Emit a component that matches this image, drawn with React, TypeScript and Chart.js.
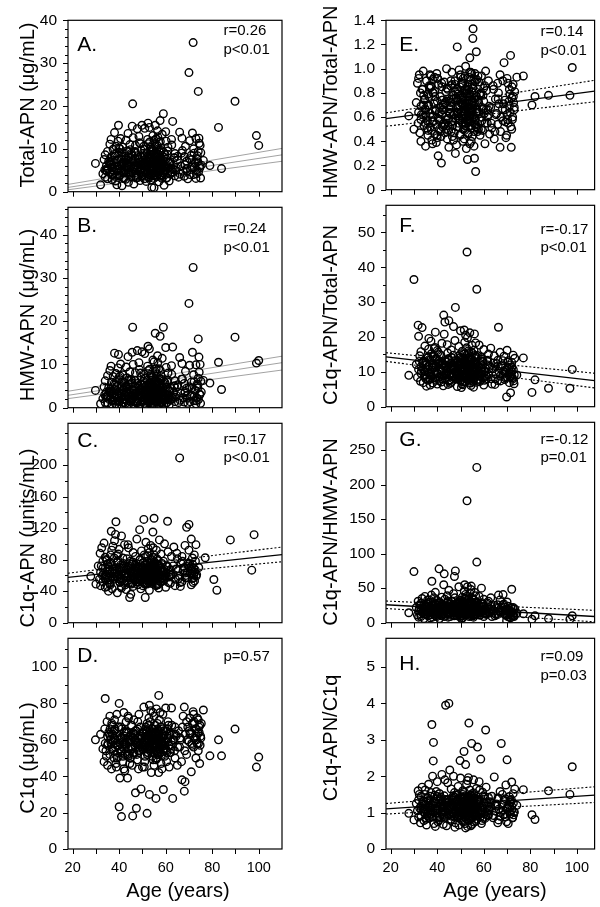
import React, { useEffect, useRef } from "react";
import { Chart, registerables } from "chart.js";

Chart.register(...registerables);

const FONT = '"Liberation Sans", Arial, Helvetica, sans-serif';

// ---- ages (subjects); panels C, E-H are plotted 2 years left of A, B, D ----
const AGE_ABD = [
  29.8, 32, 33, 33.5, 33.8, 34, 34, 34.5, 34.8, 35,
  35, 35, 35.5, 36, 36, 36.3, 36.7, 37, 37, 37.4,
  37.8, 38, 38, 38.3, 38.6, 39, 39, 39.3, 39.7, 36.5,
  37.2, 38.8, 39.5, 36.8, 38.4, 40, 40, 40.3, 40.6, 41,
  41, 41.2, 41.5, 41.8, 42, 42, 42.3, 42.6, 43, 43,
  43.3, 43.6, 44, 44, 44.3, 44.6, 40.8, 41.6, 42.8, 43.8,
  44.8, 40.4, 42.4, 45, 45, 45.3, 45.6, 46, 46, 46.3,
  46.7, 47, 47, 47.4, 47.8, 48, 48, 48.3, 48.7, 49,
  49, 49.4, 49.8, 45.8, 46.5, 47.6, 48.5, 49.6, 50, 50,
  50.3, 50.6, 51, 51, 51.3, 51.6, 52, 52, 52.2, 52.5,
  52.8, 53, 53, 53.2, 53.5, 53.8, 54, 54, 54.2, 54.5,
  54.8, 50.8, 51.8, 52.6, 53.4, 53.9, 54.6, 51.4, 53.6, 52.4,
  54.4, 55, 55, 55, 55.2, 55.5, 55.8, 56, 56, 56,
  56.2, 56.5, 56.8, 57, 57, 57, 57.3, 57.6, 57.8, 58,
  58, 58.2, 58.5, 58.8, 59, 59, 59.3, 59.6, 55.4, 56.4,
  57.4, 58.4, 55.6, 56.6, 57.6, 58.6, 60, 60, 60.4, 60.7,
  61, 61, 61.5, 62, 62, 62.5, 63, 63.5, 64, 64,
  64.5, 60.2, 61.2, 62.8, 65, 65.5, 66, 66.5, 67, 67.5,
  68, 68, 68.5, 69, 69, 69.5, 66.8, 68.3, 70, 70.3,
  70.7, 71, 71.5, 72, 72, 72.5, 73, 73, 73.5, 74,
  74, 74.3, 74.6, 75, 71.8, 73.8, 74.8, 75.3, 76.2, 79,
  82.7, 84, 89.8, 99, 100, 56.5, 54.2, 57.2, 55.8, 53.1,
  35.2, 36.2, 37.6, 38.2, 39.2, 40.2, 41.4, 42.2, 43.4, 44.2,
  35.8, 36.9, 37.9, 38.9, 39.9, 40.9, 41.9, 42.9, 43.9, 44.9,
  45.2, 45.9, 46.2, 46.9, 47.2, 47.9, 48.2, 48.9, 49.2, 49.9,
  45.4, 46.4, 47.3, 48.4, 49.3, 50.1, 50.9, 51.5, 52.1, 52.9,
  50.2, 50.5, 51.1, 51.7, 52.3, 52.7, 53.3, 53.7, 54.3, 54.7,
  53.05, 53.45, 53.85, 54.1, 54.9, 55.1, 55.3, 55.7, 55.9, 56.1,
  55.05, 55.45, 55.85, 56.3, 56.7, 56.9, 57.1, 57.5, 57.9, 58.1,
  56.05, 56.45, 56.85, 57.2, 57.7, 58.3, 58.7, 58.9, 59.1, 59.5,
  59.8, 60.1, 60.5, 60.9, 61.3, 61.7, 62.2, 62.6, 63.2, 63.8,
  51.05, 52.05, 53.15, 54.05, 55.15, 56.15, 57.15, 58.15, 59.15, 54.35,
  64.3, 65.2, 66.2, 67.2, 68.2, 69.2, 70.2, 71.2, 72.2, 73.2,
  72.8, 73.3, 73.6, 74.1, 74.4, 74.7, 75.1, 72.3, 71.3, 70.5,
  40.1, 41.3, 42.1, 43.1, 44.1, 38.1, 39.4, 37.1, 36.1, 34.3,
  44.4, 45.7, 46.8, 47.7, 48.6, 49.7, 50.7, 51.9, 52.7, 53.7,
  54.7, 55.7, 56.7, 57.7, 58.7, 59.7, 60.8, 61.8, 62.4, 63.6,
  48.1, 49.1, 50.4, 51.2, 53.0, 54.0, 55.0, 56.0, 57.0, 58.0,
];

const AGE_CEFGH = [
  27.8, 30, 31, 31.5, 31.8, 32, 32, 32.5, 32.8, 33,
  33, 33, 33.5, 34, 34, 34.3, 34.7, 35, 35, 35.4,
  35.8, 36, 36, 36.3, 36.6, 37, 37, 37.3, 37.7, 34.5,
  35.2, 36.8, 37.5, 34.8, 36.4, 38, 38, 38.3, 38.6, 39,
  39, 39.2, 39.5, 39.8, 40, 40, 40.3, 40.6, 41, 41,
  41.3, 41.6, 42, 42, 42.3, 42.6, 38.8, 39.6, 40.8, 41.8,
  42.8, 38.4, 40.4, 43, 43, 43.3, 43.6, 44, 44, 44.3,
  44.7, 45, 45, 45.4, 45.8, 46, 46, 46.3, 46.7, 47,
  47, 47.4, 47.8, 43.8, 44.5, 45.6, 46.5, 47.6, 48, 48,
  48.3, 48.6, 49, 49, 49.3, 49.6, 50, 50, 50.2, 50.5,
  50.8, 51, 51, 51.2, 51.5, 51.8, 52, 52, 52.2, 52.5,
  52.8, 48.8, 49.8, 50.6, 51.4, 51.9, 52.6, 49.4, 51.6, 50.4,
  52.4, 53, 53, 53, 53.2, 53.5, 53.8, 54, 54, 54,
  54.2, 54.5, 54.8, 55, 55, 55, 55.3, 55.6, 55.8, 56,
  56, 56.2, 56.5, 56.8, 57, 57, 57.3, 57.6, 53.4, 54.4,
  55.4, 56.4, 53.6, 54.6, 55.6, 56.6, 58, 58, 58.4, 58.7,
  59, 59, 59.5, 60, 60, 60.5, 61, 61.5, 62, 62,
  62.5, 58.2, 59.2, 60.8, 63, 63.5, 64, 64.5, 65, 65.5,
  66, 66, 66.5, 67, 67, 67.5, 64.8, 66.3, 68, 68.3,
  68.7, 69, 69.5, 70, 70, 70.5, 71, 71, 71.5, 72,
  72, 72.3, 72.6, 73, 69.8, 71.8, 72.8, 73.3, 74.2, 77,
  80.7, 82, 87.8, 97, 98, 54.5, 52.2, 55.2, 53.8, 51.1,
  33.2, 34.2, 35.6, 36.2, 37.2, 38.2, 39.4, 40.2, 41.4, 42.2,
  33.8, 34.9, 35.9, 36.9, 37.9, 38.9, 39.9, 40.9, 41.9, 42.9,
  43.2, 43.9, 44.2, 44.9, 45.2, 45.9, 46.2, 46.9, 47.2, 47.9,
  43.4, 44.4, 45.3, 46.4, 47.3, 48.1, 48.9, 49.5, 50.1, 50.9,
  48.2, 48.5, 49.1, 49.7, 50.3, 50.7, 51.3, 51.7, 52.3, 52.7,
  51.05, 51.45, 51.85, 52.1, 52.9, 53.1, 53.3, 53.7, 53.9, 54.1,
  53.05, 53.45, 53.85, 54.3, 54.7, 54.9, 55.1, 55.5, 55.9, 56.1,
  54.05, 54.45, 54.85, 55.2, 55.7, 56.3, 56.7, 56.9, 57.1, 57.5,
  57.8, 58.1, 58.5, 58.9, 59.3, 59.7, 60.2, 60.6, 61.2, 61.8,
  49.05, 50.05, 51.15, 52.05, 53.15, 54.15, 55.15, 56.15, 57.15, 52.35,
  62.3, 63.2, 64.2, 65.2, 66.2, 67.2, 68.2, 69.2, 70.2, 71.2,
  70.8, 71.3, 71.6, 72.1, 72.4, 72.7, 73.1, 70.3, 69.3, 68.5,
  38.1, 39.3, 40.1, 41.1, 42.1, 36.1, 37.4, 35.1, 34.1, 32.3,
  42.4, 43.7, 44.8, 45.7, 46.6, 47.7, 48.7, 49.9, 50.7, 51.7,
  52.7, 53.7, 54.7, 55.7, 56.7, 57.7, 58.8, 59.8, 60.4, 61.6,
  46.1, 47.1, 48.4, 49.2, 51.0, 52.0, 53.0, 54.0, 55.0, 56.0,
];

// ---- A: Total-APN (ug/mL) ----
const TOTAL_APN = [
  6.6, 1.6, 4.2, 7.5, 5.1, 3.4, 8.6, 6.0, 4.8, 9.4,
  5.5, 3.0, 7.1, 11.1, 4.4, 6.3, 8.2, 2.8, 5.7, 9.9,
  4.9, 13.8, 6.8, 3.6, 10.6, 7.4, 1.6, 5.3, 15.5, 12.2,
  4.0, 8.9, 11.8, 6.5, 2.5, 6.1, 9.2, 3.9, 12.4, 5.0,
  7.6, 1.4, 10.4, 4.6, 6.9, 3.1, 8.3, 5.8, 12.0, 4.3,
  9.5, 6.4, 2.2, 7.9, 5.2, 11.0, 4.8, 6.7, 2.9, 13.6,
  4.1, 10.0, 7.3, 6.0, 3.5, 9.0, 15.3, 5.4, 12.6, 1.8,
  7.7, 4.5, 10.8, 6.2, 14.7, 3.3, 8.4, 5.6, 11.4, 7.0,
  2.6, 9.7, 15.5, 20.5, 6.6, 4.0, 12.9, 5.2, 8.0, 3.8,
  6.4, 10.6, 14.8, 5.0, 7.6, 2.4, 9.1, 4.6, 12.2, 6.9,
  3.2, 8.1, 15.0, 5.6, 10.3, 7.2, 1.0, 4.2, 6.1, 13.1,
  8.8, 3.0, 5.9, 11.2, 7.0, 4.9, 9.6, 6.8, 2.7, 16.0,
  5.4, 7.8, 0.9, 12.0, 4.3, 15.5, 6.5, 9.8, 3.5, 7.3,
  5.1, 14.2, 8.6, 2.3, 6.2, 11.5, 4.7, 16.6, 7.5, 3.9,
  10.2, 6.0, 13.4, 4.4, 18.2, 8.1, 1.5, 5.8, 11.0, 6.9,
  9.3, 3.1, 5.0, 12.8, 7.9, 4.5, 6.4, 14.0, 3.2, 8.7,
  5.5, 10.4, 2.5, 7.0, 4.1, 12.2, 16.4, 6.3, 3.7, 8.9,
  5.6, 11.8, 6.8, 4.6, 7.4, 3.4, 13.9, 6.0, 12.5, 4.8,
  8.2, 3.6, 10.6, 5.4, 7.1, 3.0, 9.0, 6.3, 27.8, 11.9,
  5.2, 8.5, 13.7, 4.0, 10.0, 6.6, 12.4, 3.1, 7.7, 23.4,
  9.4, 12.5, 5.5, 3.2, 34.8, 7.0, 10.8, 6.2, 7.3, 6.1,
  15.0, 5.4, 21.1, 13.1, 10.8, 6.7, 9.9, 5.3, 8.3, 11.6,
  5.2, 7.0, 4.1, 8.3, 6.0, 3.7, 9.1, 5.5, 7.4, 4.6,
  6.8, 3.9, 8.7, 5.0, 10.2, 6.4, 3.3, 7.7, 5.9, 9.8,
  4.4, 7.2, 5.8, 9.4, 3.6, 6.7, 8.0, 4.9, 11.2, 6.1,
  8.6, 5.3, 3.2, 7.5, 6.2, 4.3, 9.9, 5.7, 7.0, 3.9,
  6.6, 9.0, 4.7, 5.9, 8.2, 3.5, 7.1, 10.4, 5.1, 6.9,
  4.0, 7.8, 5.6, 9.3, 3.1, 6.3, 8.5, 4.8, 12.3, 5.4,
  7.3, 3.8, 6.0, 10.8, 4.5, 8.1, 5.2, 6.8, 3.4, 9.6,
  5.8, 8.9, 4.2, 6.5, 11.7, 3.7, 7.4, 5.0, 9.2, 6.2,
  4.9, 7.6, 3.3, 9.5, 5.6, 6.8, 4.4, 10.9, 5.3, 7.9,
  6.1, 4.6, 8.8, 5.5, 7.2, 3.9, 9.7, 6.6, 4.3, 8.0,
  5.0, 8.3, 4.1, 9.6, 6.3, 4.9, 7.7, 5.8, 9.0, 4.2,
  6.9, 5.1, 8.4, 4.6, 11.3, 6.0, 9.1, 5.7, 7.5, 4.0,
  5.3, 8.0, 4.4, 6.7, 9.4, 5.9, 3.8, 7.3, 6.2, 5.0,
  7.1, 4.7, 9.2, 5.4, 6.9, 3.6, 8.4, 5.1, 7.8, 4.1,
  6.4, 9.0, 4.8, 7.2, 5.5, 8.7, 4.3, 6.6, 5.2, 7.9,
  5.9, 8.2, 4.5, 6.3, 7.7, 5.0, 3.9, 7.1, 5.6, 6.8,
];

// ---- B: HMW-APN (ug/mL) ----
const HMW_APN = [
  4.0, 0.9, 2.1, 4.8, 3.0, 1.2, 6.2, 3.6, 2.4, 7.4,
  2.9, 1.1, 4.6, 8.6, 1.8, 3.5, 5.9, 0.8, 3.1, 7.2,
  2.3, 12.6, 4.2, 1.5, 7.9, 4.9, 0.5, 2.7, 12.3, 9.6,
  1.7, 6.1, 9.2, 3.8, 0.9, 3.5, 6.5, 1.6, 10.1, 2.4,
  4.8, 0.4, 7.6, 2.0, 4.1, 1.1, 5.8, 3.0, 9.4, 1.9,
  6.9, 3.7, 0.7, 5.4, 2.5, 8.3, 2.2, 4.1, 1.0, 11.8,
  1.6, 7.3, 4.5, 3.3, 1.3, 6.4, 12.8, 2.7, 10.0, 0.6,
  5.0, 2.0, 8.1, 3.4, 13.2, 1.2, 5.6, 2.8, 8.8, 4.3,
  0.8, 7.0, 12.9, 18.6, 3.9, 1.6, 10.4, 2.6, 5.3, 1.5,
  3.8, 7.8, 12.5, 2.4, 4.9, 0.6, 6.3, 2.0, 9.6, 4.1,
  1.1, 5.3, 13.6, 2.9, 7.7, 4.5, 0.3, 1.8, 3.4, 11.0,
  6.0, 1.0, 3.2, 8.6, 4.4, 2.2, 7.0, 4.0, 0.8, 14.2,
  2.7, 5.0, 0.4, 10.6, 1.9, 17.2, 3.8, 7.2, 1.3, 4.6,
  2.4, 12.0, 5.8, 0.7, 3.6, 9.0, 2.1, 16.5, 4.8, 1.5,
  7.4, 3.3, 11.4, 1.8, 18.6, 5.5, 0.4, 3.0, 8.4, 4.2,
  6.6, 1.0, 2.5, 10.4, 5.2, 2.0, 3.7, 13.9, 1.1, 6.0,
  2.8, 8.0, 0.6, 4.5, 1.7, 9.7, 14.0, 3.6, 1.4, 6.2,
  2.9, 9.3, 4.0, 2.2, 4.8, 1.2, 11.6, 3.4, 10.2, 2.3,
  5.6, 1.3, 8.4, 2.8, 4.5, 1.0, 6.6, 3.7, 24.1, 9.8,
  2.6, 5.9, 12.8, 1.6, 7.6, 4.0, 9.9, 0.9, 5.0, 15.9,
  6.8, 11.7, 3.0, 1.0, 32.4, 4.6, 10.0, 3.6, 6.3, 5.7,
  10.5, 4.2, 16.3, 10.3, 10.9, 4.3, 7.1, 2.8, 5.6, 8.9,
  2.6, 4.3, 1.7, 5.2, 3.1, 1.4, 6.0, 2.9, 4.7, 2.0,
  3.8, 1.6, 5.6, 2.4, 7.0, 3.3, 1.2, 4.9, 2.7, 6.5,
  1.9, 4.2, 3.0, 6.3, 1.3, 3.6, 5.1, 2.2, 8.0, 3.4,
  5.7, 2.5, 1.1, 4.5, 3.2, 1.8, 6.8, 2.8, 4.0, 1.5,
  3.7, 6.1, 2.1, 3.0, 5.3, 1.4, 4.1, 7.4, 2.4, 3.9,
  1.6, 4.8, 2.7, 6.4, 1.0, 3.5, 5.6, 2.0, 9.0, 2.9,
  4.4, 1.5, 3.3, 7.8, 2.0, 5.2, 2.6, 3.9, 1.1, 6.6,
  3.1, 5.9, 1.8, 3.7, 8.6, 1.3, 4.6, 2.3, 6.2, 3.4,
  2.2, 4.7, 1.2, 6.4, 2.8, 3.9, 1.9, 7.7, 2.5, 5.0,
  3.3, 2.0, 5.8, 2.7, 4.3, 1.5, 6.7, 3.6, 1.8, 5.1,
  2.4, 5.3, 1.7, 6.6, 3.4, 2.2, 4.8, 2.9, 6.0, 1.6,
  4.0, 2.3, 5.5, 1.9, 8.2, 3.1, 6.1, 2.6, 4.6, 1.4,
  2.8, 5.1, 1.9, 3.8, 6.4, 3.0, 1.5, 4.4, 3.4, 2.5,
  4.3, 2.0, 6.3, 2.7, 4.0, 1.3, 5.6, 2.4, 4.9, 1.7,
  3.6, 6.1, 2.1, 4.5, 2.7, 5.8, 1.9, 3.8, 2.4, 5.0,
  3.1, 5.4, 1.8, 3.5, 4.8, 2.3, 1.5, 4.2, 2.8, 3.9,
];

// ---- C: C1q-APN (units/mL) ----
const C1Q_APN = [
  58.8, 49, 72, 55, 88, 64, 47, 95, 60, 78,
  52, 69, 101, 45, 83, 61, 79, 57, 74, 40,
  66, 50, 54, 86, 116, 71, 43, 97, 62, 80,
  54, 92, 68, 46, 76, 58, 104, 63, 128, 85,
  67, 38, 79, 56, 93, 61, 51, 73, 110, 44,
  65, 82, 53, 70, 99, 48, 60, 87, 57, 75,
  62, 112, 55, 68, 42, 81, 59, 95, 50, 72,
  64, 36, 57, 57, 77, 46, 89, 61, 54, 70,
  84, 52, 66, 99, 32, 74, 58, 106, 63, 48,
  69, 69, 55, 80, 43, 91, 60, 71, 52, 64,
  86, 57, 73, 32, 102, 62, 49, 78, 66, 94,
  54, 118, 61, 131, 84, 59, 67, 67, 51, 76,
  63, 89, 41, 72, 56, 98, 65, 50, 80, 60,
  68, 115, 53, 74, 132.5, 86, 61, 70, 47, 92,
  58, 66, 66, 79, 44, 62, 105, 55, 71, 83,
  60, 74, 52, 95, 63, 48, 69, 87, 57, 66,
  78, 53, 100, 61, 45, 72, 90, 58, 67, 50,
  84, 64, 55, 128.6, 62, 96, 47, 68, 81, 56,
  209, 59, 76, 52, 84, 66, 88, 46, 70, 98,
  60, 121, 75, 124.7, 92, 63, 106, 48, 82, 69,
  57, 86, 64, 99, 72, 51, 78, 61, 70, 82.4,
  54.8, 41.2, 105, 66.6, 111.7, 63, 58, 77, 65, 55,
  62, 55, 71, 48, 66, 58, 77, 52, 69, 60,
  57, 74, 50, 64, 82, 59, 68, 46, 72, 63,
  53, 67, 60, 78, 49, 65, 56, 73, 61, 70,
  58, 75, 51, 63, 69, 55, 80, 62, 47, 66,
  71, 54, 64, 59, 76, 50, 67, 57, 85, 61,
  49, 68, 62, 74, 56, 65, 53, 79, 60, 70,
  63, 57, 72, 52, 66, 60, 77, 55, 69, 48,
  61, 73, 54, 67, 58, 81, 50, 64, 71, 59,
  66, 52, 75, 60, 68, 56, 63, 72, 51, 65,
  58, 69, 62, 54, 76, 61, 67, 49, 73, 64,
  60, 72, 55, 66, 51, 78, 63, 57, 70, 62,
  68, 56, 74, 61, 53, 67, 59, 75, 64, 57,
  65, 58, 70, 53, 62, 76, 55, 68, 60, 72,
  59, 71, 64, 50, 67, 56, 74, 62, 58, 69,
  63, 55, 68, 60, 73, 52, 66, 58, 71, 61,
  57, 66, 62, 70, 54, 64, 59, 72, 56, 67,
];

// ---- D: C1q (ug/mL) ----
const C1Q = [
  60, 63, 55, 48, 66, 82.7, 58, 51, 70, 62,
  46, 57, 64, 52, 73, 60, 44, 68, 55, 59,
  50, 65, 71, 56, 47, 62, 74, 53, 67, 58,
  63, 45, 57, 69, 52, 80, 23.2, 39, 61, 17.8,
  54, 66, 48, 59, 75, 44, 62, 52, 70, 57,
  64, 39, 55, 72, 60, 47, 67, 51, 58, 73,
  50, 58, 43, 63, 55, 68, 46, 61, 53, 71,
  57, 30.9, 65, 22.4, 49, 59, 70, 44, 62, 54,
  67, 33, 56, 18.2, 60, 52, 74, 58, 45, 64,
  55, 78, 61, 48, 66, 57, 19.6, 69, 53, 60,
  72, 30, 79, 56, 63, 42, 59, 66, 51, 75,
  58, 45, 65, 55, 70, 62, 49, 60, 76, 53,
  64, 57, 73, 46, 61, 68, 27.8, 54, 77, 59,
  50, 66, 62, 84.4, 56, 42, 71, 60, 53, 67,
  47, 63, 58, 74, 55, 32.7, 65, 51, 60, 69,
  57, 44, 63, 52, 75, 61, 77.5, 55, 48, 66,
  59, 70, 45, 64, 53, 77.5, 27.8, 60, 67, 50,
  62, 54, 68, 57, 46, 65, 56, 60, 38, 73,
  78, 31.8, 63, 70, 52, 67, 48, 37, 59, 72,
  64, 42.4, 69, 56, 74, 61, 50, 66, 58, 71,
  54, 67, 47, 62, 75.5, 64, 57, 69, 76.4, 51.2,
  60, 51.2, 65.9, 45, 50.5, 53, 61, 58, 49, 65,
  58, 62, 54, 66, 50, 60, 56, 64, 52, 59,
  63, 55, 61, 57, 67, 53, 59, 65, 51, 62,
  56, 64, 52, 60, 58, 66, 54, 62, 57, 61,
  60, 53, 65, 57, 62, 55, 59, 67, 52, 63,
  58, 64, 51, 61, 56, 68, 54, 60, 63, 57,
  62, 55, 59, 66, 53, 61, 57, 64, 50, 60,
  56, 63, 58, 52, 65, 59, 61, 55, 67, 57,
  61, 54, 64, 58, 60, 52, 66, 57, 62, 55,
  59, 65, 53, 61, 57, 63, 55, 68, 60, 54,
  57, 62, 55, 60, 64, 58, 52, 61, 59, 66,
  63, 56, 61, 67, 54, 60, 65, 58, 70, 62,
  66, 60, 72, 58, 64, 68, 61, 69, 57, 63,
  55, 61, 58, 64, 52, 60, 57, 63, 66, 54,
  60, 56, 63, 58, 54, 62, 59, 65, 57, 61,
  58, 64, 55, 60, 62, 57, 66, 53, 59, 63,
  61, 57, 64, 55, 59, 62, 56, 60, 63, 58,
];

// ---- E: HMW-APN / Total-APN ----
const HMW_TOTAL = [
  0.61, 0.50, 0.72, 0.88, 0.55, 0.64, 0.92, 0.47, 0.80, 0.58,
  0.69, 0.40, 0.83, 0.62, 0.98, 0.53, 0.75, 0.36, 0.66, 0.90,
  0.57, 0.79, 0.45, 0.70, 0.86, 0.52, 0.63, 0.94, 0.41, 0.74,
  0.60, 0.84, 0.49, 0.67, 0.77, 0.38, 0.91, 0.56, 0.71, 0.46,
  0.81, 0.65, 0.54, 0.96, 0.43, 0.73, 0.59, 0.87, 0.50, 0.68,
  0.77, 0.44, 0.62, 0.85, 0.52, 0.70, 0.93, 0.39, 0.58, 0.22,
  0.66, 0.80, 0.28, 0.55, 0.89, 0.47, 0.72, 0.61, 1.00, 0.42,
  0.53, 0.75, 0.35, 0.64, 0.86, 0.48, 0.69, 0.97, 0.57, 0.41,
  0.78, 0.62, 0.30, 0.50, 0.83, 0.67, 0.44, 0.90, 0.59, 0.73,
  0.37, 1.18, 0.63, 0.81, 0.52, 0.70, 0.95, 0.46, 0.64, 0.87,
  0.55, 0.76, 0.40, 0.92, 0.61, 0.49, 0.83, 0.68, 1.02, 0.34,
  0.58, 0.74, 0.45, 0.88, 0.65, 0.53, 0.79, 0.99, 0.42, 0.71,
  0.60, 0.85, 0.25, 0.68, 0.47, 0.93, 0.56, 1.09, 0.38, 0.77,
  0.63, 0.51, 0.96, 0.72, 0.44, 0.87, 1.25, 0.59, 0.36, 0.26,
  0.80, 0.54, 0.15, 1.14, 0.67, 0.91, 0.48, 0.74, 0.61, 0.97,
  1.33, 0.58, 0.83, 0.40, 0.70, 0.52, 0.89, 0.64, 0.45, 0.78,
  0.60, 0.94, 0.49, 0.73, 0.84, 0.38, 0.66, 0.55, 0.90, 0.62,
  0.46, 0.79, 0.57, 0.98, 0.68, 0.51, 0.86, 0.42, 0.75, 0.63,
  0.88, 0.54, 0.71, 0.35, 0.95, 0.60, 0.48, 0.80, 0.67, 0.57,
  1.05, 0.74, 0.43, 0.62, 0.92, 0.55, 0.83, 0.69, 1.11, 0.50,
  0.76, 0.58, 0.87, 0.66, 0.45, 0.35, 0.72, 0.81, 0.93, 0.94,
  0.70, 0.77, 0.78, 0.78, 1.01, 0.65, 0.53, 0.84, 0.61, 0.74,
  0.62, 0.78, 0.51, 0.70, 0.86, 0.57, 0.66, 0.92, 0.48, 0.74,
  0.83, 0.55, 0.69, 0.95, 0.60, 0.77, 0.45, 0.64, 0.88, 0.53,
  0.71, 0.58, 0.84, 0.49, 0.67, 0.90, 0.56, 0.75, 0.62, 0.81,
  0.54, 0.73, 0.63, 0.87, 0.47, 0.68, 0.79, 0.59, 0.93, 0.65,
  0.76, 0.52, 0.69, 0.85, 0.61, 0.72, 0.50, 0.80, 0.66, 0.57,
  0.88, 0.63, 0.74, 0.55, 0.82, 0.67, 0.46, 0.71, 0.97, 0.60,
  0.58, 0.79, 0.65, 0.91, 0.53, 0.70, 0.84, 0.62, 0.48, 0.75,
  0.67, 0.56, 0.81, 0.73, 0.60, 0.89, 0.52, 0.77, 0.64, 0.94,
  0.72, 0.59, 0.86, 0.50, 0.68, 0.78, 0.63, 0.55, 0.82, 0.66,
  0.61, 0.76, 0.54, 0.70, 0.87, 0.58, 0.73, 0.96, 0.51, 0.80,
  0.69, 0.55, 0.83, 0.62, 0.75, 0.48, 0.90, 0.66, 0.58, 0.79,
  0.73, 0.64, 0.52, 0.85, 0.60, 0.77, 0.68, 0.88, 0.56, 0.71,
  0.80, 0.65, 0.92, 0.57, 0.74, 0.49, 0.85, 0.62, 0.70, 0.95,
  0.66, 0.81, 0.59, 0.72, 0.53, 0.87, 0.64, 0.78, 0.61, 0.69,
  0.57, 0.74, 0.68, 0.91, 0.63, 0.50, 0.80, 0.67, 0.86, 0.60,
  0.75, 0.62, 0.83, 0.55, 0.71, 0.94, 0.58, 0.79, 0.65, 0.72,
];

// ---- F: C1q-APN / Total-APN ----
const C1QAPN_TOTAL = [
  9.0, 36.5, 12.1, 8.4, 23.4, 20.2, 10.7, 14.6, 7.3, 11.5,
  9.6, 15.8, 22.7, 6.9, 13.0, 10.2, 17.4, 8.1, 12.7, 5.9,
  11.2, 14.1, 7.6, 16.5, 9.8, 13.4, 6.2, 18.8, 10.5, 8.7,
  12.8, 7.9, 15.2, 10.0, 19.6, 6.8, 11.9, 14.3, 9.2, 17.0,
  8.3, 21.4, 11.6, 13.7, 6.5, 16.1, 9.5, 12.3, 7.4, 15.0,
  10.9, 14.8, 18.2, 8.0, 12.5, 6.0, 16.7, 9.9, 13.2, 7.1,
  26.3, 11.3, 15.6, 8.9, 20.8, 24.3, 7.7, 12.9, 10.3, 17.8,
  6.4, 13.6, 24.7, 9.4, 11.0, 16.3, 7.0, 14.0, 10.6, 23.0,
  8.5, 12.0, 28.5, 9.1, 15.4, 6.7, 11.8, 19.0, 8.2, 13.3,
  10.1, 5.8, 14.5, 9.7, 17.3, 12.4, 7.5, 21.8, 11.1, 8.8,
  15.9, 10.4, 6.3, 13.8, 9.3, 18.5, 12.2, 7.2, 20.5, 11.7,
  44.4, 9.0, 14.9, 6.6, 12.6, 10.8, 16.9, 8.6, 22.0, 5.5,
  11.4, 13.1, 19.8, 7.8, 10.0, 15.5, 8.4, 12.9, 21.2, 9.6,
  14.4, 6.1, 11.9, 17.6, 9.0, 13.5, 7.3, 10.7, 16.2, 20.9,
  8.9, 12.6, 18.3, 7.0, 33.7, 11.2, 14.7, 9.4, 16.0, 6.8,
  10.5, 13.9, 8.1, 15.7, 5.6, 12.1, 9.8, 17.7, 7.6, 11.0,
  14.1, 8.4, 12.9, 6.2, 16.4, 10.3, 7.9, 13.0, 9.2, 15.1,
  11.6, 7.2, 13.6, 9.0, 16.8, 6.5, 10.9, 14.6, 8.0, 12.4,
  7.5, 13.3, 10.1, 15.6, 8.8, 11.7, 6.4, 22.8, 12.0, 9.3,
  14.5, 7.8, 10.6, 16.2, 8.6, 13.2, 6.9, 11.3, 4.0, 9.9,
  12.7, 8.3, 14.8, 6.6, 2.8, 10.4, 7.4, 13.9, 9.1, 14.0,
  4.1, 7.7, 5.3, 5.3, 10.7, 12.3, 8.5, 15.3, 10.8, 7.1,
  10.2, 13.1, 8.4, 11.7, 9.3, 14.5, 7.6, 12.2, 10.8, 8.9,
  12.6, 9.1, 14.0, 7.9, 11.3, 10.0, 13.5, 8.6, 12.0, 9.7,
  8.2, 11.9, 10.4, 13.8, 7.4, 12.5, 9.5, 14.8, 10.9, 8.0,
  13.2, 9.8, 7.7, 11.4, 10.6, 8.7, 12.9, 9.2, 14.2, 10.1,
  9.4, 12.7, 8.1, 10.7, 13.6, 7.8, 11.1, 15.2, 9.0, 12.1,
  11.5, 8.5, 13.0, 9.6, 12.4, 10.3, 7.5, 14.1, 11.0, 9.9,
  12.3, 10.5, 8.8, 13.7, 9.2, 11.8, 10.1, 7.2, 12.8, 8.3,
  10.0, 13.4, 9.7, 11.2, 8.4, 12.6, 14.4, 9.1, 10.8, 7.9,
  11.6, 8.9, 12.4, 10.2, 9.4, 13.1, 7.6, 11.0, 8.7, 12.0,
  9.8, 12.2, 10.6, 8.2, 13.9, 11.3, 9.0, 14.7, 10.4, 8.6,
  10.9, 8.0, 12.5, 9.3, 11.7, 7.4, 13.2, 9.8, 11.1, 8.5,
  9.6, 12.0, 8.7, 11.4, 7.9, 10.6, 9.1, 12.8, 8.3, 10.2,
  11.3, 13.8, 9.5, 12.6, 10.1, 14.3, 8.8, 11.9, 10.7, 13.0,
  12.1, 9.4, 13.5, 10.8, 8.6, 11.6, 9.9, 14.0, 10.5, 12.7,
  9.2, 11.8, 10.4, 8.1, 12.9, 9.7, 11.2, 8.5, 10.0, 13.3,
  10.7, 12.5, 9.0, 11.5, 13.4, 10.3, 8.4, 12.2, 9.6, 11.1,
];

// ---- G: C1q-APN / HMW-APN ----
const C1QAPN_HMW = [
  14.4, 74, 22, 11, 31, 17, 8, 26, 13, 19,
  9, 28, 35, 15, 21, 6, 38, 12, 24, 16,
  18, 10, 27, 14, 33, 20, 7, 23, 60, 13,
  25, 11, 40, 17, 29, 8, 21, 13, 36, 15,
  19, 44, 26, 9, 16, 32, 12, 22, 6, 30,
  14, 24, 37, 10, 20, 12, 28, 18, 78, 11,
  55, 17, 26, 70.8, 9, 34, 13, 23, 19, 39,
  8, 27, 47, 15, 21, 31, 12, 25, 16, 42,
  11, 67, 75, 18, 29, 9, 22, 36, 14, 20,
  17, 10, 30, 13, 52, 24, 8, 33, 19, 27,
  37, 21, 7, 26, 15, 55, 18, 11, 41, 23,
  176.6, 14, 32, 10, 25, 17, 38, 12, 46, 6,
  20, 28, 52, 13, 19, 34, 9, 24, 43, 16,
  30, 48, 22, 35, 14, 27, 11, 19, 33, 44,
  13, 25, 39, 12, 225, 87.8, 29, 16, 35, 10,
  21, 28, 13, 53, 8, 24, 17, 38, 12, 20,
  50, 15, 27, 9, 34, 18, 12, 23, 16, 31,
  20, 11, 29, 14, 36, 9, 19, 25, 13, 22,
  12, 26, 17, 33, 15, 21, 10, 40, 18, 40.7,
  27, 13, 19, 30, 11, 24, 8, 17, 7, 15,
  48.4, 12, 22, 9, 3, 16, 10, 20, 14, 13,
  5, 10, 6, 5, 10, 21, 16, 28, 18, 12,
  18, 26, 12, 21, 15, 30, 10, 23, 17, 27,
  14, 22, 33, 16, 25, 11, 19, 28, 13, 24,
  20, 15, 29, 12, 23, 18, 31, 14, 26, 17,
  22, 13, 27, 19, 10, 25, 16, 32, 21, 14,
  17, 28, 12, 24, 19, 30, 15, 22, 11, 26,
  23, 16, 34, 13, 27, 20, 14, 29, 18, 25,
  12, 24, 19, 31, 15, 22, 27, 10, 21, 17,
  26, 14, 22, 18, 33, 12, 25, 16, 29, 20,
  15, 23, 11, 27, 18, 14, 24, 20, 13, 28,
  21, 16, 30, 13, 25, 19, 35, 15, 23, 18,
  14, 24, 17, 12, 21, 16, 26, 11, 19, 15,
  18, 13, 22, 16, 10, 20, 14, 9, 17, 23,
  20, 27, 15, 23, 13, 29, 18, 25, 16, 21,
  24, 17, 31, 14, 26, 19, 22, 12, 28, 16,
  19, 25, 13, 21, 30, 15, 23, 18, 14, 20,
  22, 15, 28, 17, 24, 13, 26, 19, 21, 16,
];

// ---- H: C1q-APN / C1q ----
const C1QAPN_C1Q = [
  0.98, 0.80, 1.25, 1.05, 1.60, 0.88, 1.35, 1.12, 0.72, 1.45,
  1.18, 0.92, 1.70, 1.02, 1.30, 0.78, 1.50, 1.08, 1.22, 0.66,
  1.40, 1.00, 1.15, 1.78, 0.85, 1.28, 0.95, 1.55, 3.42, 1.10,
  0.82, 1.33, 1.05, 1.62, 0.90, 1.20, 2.00, 2.42, 0.70, 1.48,
  1.12, 0.62, 1.38, 0.98, 1.85, 1.08, 0.75, 1.26, 1.52, 0.88,
  1.16, 1.42, 0.95, 2.05, 1.03, 0.68, 1.32, 1.58, 0.80, 1.22,
  0.93, 2.93, 1.10, 1.46, 0.85, 1.90, 3.95, 1.20, 0.64, 1.36,
  1.05, 4.00, 1.28, 2.17, 0.78, 1.14, 1.65, 0.90, 1.40, 2.00,
  1.00, 1.55, 0.72, 1.25, 1.82, 0.96, 1.35, 0.60, 1.18, 1.48,
  0.87, 1.30, 1.08, 1.72, 0.66, 1.22, 0.94, 1.95, 1.12, 0.80,
  1.42, 1.02, 1.60, 0.74, 2.68, 1.15, 0.88, 1.34, 0.58, 1.26,
  1.06, 1.50, 2.43, 0.92, 1.20, 0.70, 1.78, 1.00, 1.38, 0.84,
  1.16, 0.62, 1.88, 1.04, 1.44, 0.78, 1.28, 0.96, 1.62, 1.10,
  0.86, 1.36, 2.90, 1.18, 0.68, 1.52, 1.00, 1.90, 0.74, 1.24,
  1.40, 0.90, 1.12, 1.66, 0.82, 1.30, 2.80, 1.02, 1.96, 0.64,
  1.20, 0.96, 3.46, 1.48, 1.08, 0.76, 1.34, 1.85, 0.88, 2.47,
  1.14, 0.70, 1.56, 1.00, 1.26, 0.84, 1.70, 1.06, 1.42, 0.92,
  1.30, 1.62, 0.78, 3.27, 1.16, 1.45, 0.86, 1.98, 1.04, 1.24,
  0.72, 1.38, 1.10, 1.58, 0.90, 2.90, 1.22, 0.80, 1.50, 1.06,
  1.34, 0.96, 1.76, 2.45, 1.12, 0.70, 1.44, 1.02, 1.28, 1.84,
  1.18, 0.86, 1.52, 1.00, 0.75, 1.36, 0.94, 1.65, 1.20, 1.63,
  0.94, 0.81, 1.60, 1.50, 2.26, 1.14, 2.32, 0.88, 1.40, 1.08,
  1.10, 1.32, 0.92, 1.20, 1.45, 1.02, 1.26, 0.85, 1.38, 1.08,
  1.24, 0.96, 1.40, 1.14, 0.88, 1.30, 1.06, 1.52, 0.98, 1.18,
  1.02, 1.28, 0.90, 1.36, 1.12, 0.82, 1.22, 1.46, 1.00, 1.16,
  1.34, 1.08, 0.94, 1.26, 1.42, 1.04, 0.86, 1.20, 1.10, 1.50,
  0.98, 1.22, 1.38, 0.90, 1.16, 1.30, 1.04, 1.56, 0.84, 1.12,
  1.18, 1.44, 1.00, 1.28, 0.92, 1.10, 1.36, 0.80, 1.24, 1.06,
  1.32, 0.94, 1.16, 1.48, 1.04, 1.26, 0.88, 1.14, 1.40, 0.98,
  1.08, 1.30, 0.86, 1.20, 1.54, 1.00, 1.24, 0.92, 1.12, 1.36,
  1.22, 0.98, 1.34, 1.06, 1.18, 0.84, 1.42, 1.10, 1.28, 0.94,
  1.14, 1.38, 0.96, 1.24, 1.06, 1.46, 0.90, 1.20, 1.32, 1.02,
  1.06, 1.28, 0.92, 1.18, 1.40, 1.00, 1.24, 0.88, 1.12, 1.34,
  1.20, 0.96, 1.30, 1.08, 0.86, 1.26, 1.02, 1.16, 1.38, 0.94,
  1.26, 1.04, 1.44, 0.90, 1.16, 1.32, 0.98, 1.22, 1.10, 1.50,
  1.12, 1.36, 0.94, 1.20, 1.02, 1.30, 0.88, 1.18, 1.42, 1.06,
  1.00, 1.24, 1.14, 1.38, 0.92, 1.28, 1.08, 1.46, 0.96, 1.18,
  1.16, 0.90, 1.32, 1.04, 1.22, 0.98, 1.40, 1.10, 1.26, 1.02,
];

// ---- regression lines (value at left edge, value at right edge) ----
const FIT_X_LEFT = [18, 110];
const FIT_X_RIGHT = [18, 107.6];
const A_FIT = [1.0, 8.6];
const A_UPPER = [1.7, 10.1];
const A_LOWER = [0.45, 7.1];
const B_FIT = [2.86, 10.4];
const B_UPPER = [3.8, 11.9];
const B_LOWER = [2.1, 8.7];
const C_FIT = [57.6, 86.3];
const C_UPPER = [62.7, 96];
const C_LOWER = [51.8, 77.3];
const E_FIT = [0.587, 0.815];
const E_UPPER = [0.635, 0.904];
const E_LOWER = [0.524, 0.727];
const F_FIT = [14.3, 7.5];
const F_UPPER = [15.5, 9.6];
const F_LOWER = [13.0, 5.4];
const G_FIT = [26, 9];
const G_UPPER = [31.4, 17.9];
const G_LOWER = [20.6, 1.3];
const H_FIT = [1.1, 1.48];
const H_UPPER = [1.25, 1.71];
const H_LOWER = [0.96, 1.28];

// ---- ticks ----
const X_LABELS = [20, 40, 60, 80, 100];
const X_TICK_MARKS = [20, 30, 40, 50, 60, 70, 80, 90, 100];
const Y_TICKS_A = [0, 10, 20, 30, 40];
const Y_TICKS_B = [0, 10, 20, 30, 40];
const Y_TICKS_C = [0, 40, 80, 120, 160, 200];
const Y_TICKS_D = [0, 20, 40, 60, 80, 100];
const Y_TICKS_E = [0, 0.2, 0.4, 0.6, 0.8, 1.0, 1.2, 1.4];
const Y_TICKS_F = [0, 10, 20, 30, 40, 50];
const Y_TICKS_G = [0, 50, 100, 150, 200, 250];
const Y_TICKS_H = [0, 1, 2, 3, 4, 5];

// ---- texts ----
const STATS_A = ["r=0.26", "p<0.01"];
const STATS_B = ["r=0.24", "p<0.01"];
const STATS_C = ["r=0.17", "p<0.01"];
const STATS_D = ["p=0.57"];
const STATS_E = ["r=0.14", "p<0.01"];
const STATS_F = ["r=-0.17", "p<0.01"];
const STATS_G = ["r=-0.12", "p=0.01"];
const STATS_H = ["r=0.09", "p=0.03"];

type Spec = {
  letter: string;
  col: number;
  top: number;
  bottom: number;
  ages: number[];
  values: (number | null)[];
  yMax: number;
  yTicks: number[];
  minorStep: number;
  fits: number[][] | null;
  gray: boolean;
  title: string;
  titleY: number;
  stats: string[];
  statsDy: number[];
  letterDy: number;
  last: boolean;
  decimals: boolean;
};

const PANELS: Spec[] = [
  { letter: "A.", col: 0, top: 15, bottom: 202, ages: AGE_ABD, values: TOTAL_APN, yMax: 40, yTicks: Y_TICKS_A, minorStep: 2, fits: [A_FIT, A_UPPER, A_LOWER], gray: true, title: "Total-APN (\u03bcg/mL)", titleY: 105, stats: STATS_A, statsDy: [11, 29.3], letterDy: 25, last: false, decimals: false },
  { letter: "B.", col: 0, top: 202, bottom: 418, ages: AGE_ABD, values: HMW_APN, yMax: 46.3, yTicks: Y_TICKS_B, minorStep: 2, fits: [B_FIT, B_UPPER, B_LOWER], gray: true, title: "HMW-APN (\u03bcg/mL)", titleY: 315, stats: STATS_B, statsDy: [22, 40.4], letterDy: 19.4, last: false, decimals: false },
  { letter: "C.", col: 0, top: 418, bottom: 633, ages: AGE_CEFGH, values: C1Q_APN, yMax: 252.9, yTicks: Y_TICKS_C, minorStep: 20, fits: [C_FIT, C_UPPER, C_LOWER], gray: false, title: "C1q-APN (units/mL)", titleY: 538, stats: STATS_C, statsDy: [16.7, 35], letterDy: 18.4, last: false, decimals: false },
  { letter: "D.", col: 0, top: 633, bottom: 849, ages: AGE_ABD, values: C1Q, yMax: 115.8, yTicks: Y_TICKS_D, minorStep: 10, fits: null, gray: false, title: "C1q (\u03bcg/mL)", titleY: 758, stats: STATS_D, statsDy: [18.4], letterDy: 18.4, last: true, decimals: false },
  { letter: "E.", col: 1, top: 15, bottom: 200, ages: AGE_CEFGH, values: HMW_TOTAL, yMax: 1.4, yTicks: Y_TICKS_E, minorStep: 0, fits: [E_FIT, E_UPPER, E_LOWER], gray: false, title: "HMW-APN/Total-APN", titleY: 102, stats: STATS_E, statsDy: [11.7, 30.7], letterDy: 25, last: false, decimals: true },
  { letter: "F.", col: 1, top: 200, bottom: 417, ages: AGE_CEFGH, values: C1QAPN_TOTAL, yMax: 57.8, yTicks: Y_TICKS_F, minorStep: 5, fits: [F_FIT, F_UPPER, F_LOWER], gray: false, title: "C1q-APN/Total-APN", titleY: 315, stats: STATS_F, statsDy: [24.5, 42.8], letterDy: 21.2, last: false, decimals: false },
  { letter: "G.", col: 1, top: 417, bottom: 633, ages: AGE_CEFGH, values: C1QAPN_HMW, yMax: 290.3, yTicks: Y_TICKS_G, minorStep: 0, fits: [G_FIT, G_UPPER, G_LOWER], gray: false, title: "C1q-APN/HMW-APN", titleY: 532, stats: STATS_G, statsDy: [17.5, 35.8], letterDy: 17.5, last: false, decimals: false },
  { letter: "H.", col: 1, top: 633, bottom: 849, ages: AGE_CEFGH, values: C1QAPN_C1Q, yMax: 5.79, yTicks: Y_TICKS_H, minorStep: 0, fits: [H_FIT, H_UPPER, H_LOWER], gray: false, title: "C1q-APN/C1q", titleY: 738, stats: STATS_H, statsDy: [19, 37.3], letterDy: 25.6, last: true, decimals: false },
];

const COLS = [
  { left: 0, width: 300, plotL: 68, plotR: 282, xMax: 110, fitX: FIT_X_LEFT, letterX: 77.3, statsX: 223.5, titleX: 28.3, xTitleX: 178 },
  { left: 300, width: 300, plotL: 86, plotR: 295, xMax: 107.6, fitX: FIT_X_RIGHT, letterX: 99.3, statsX: 240.5, titleX: 31, xTitleX: 195 },
];

function geometry(s: Spec) {
  const c = COLS[s.col];
  const top = s.top - 15;
  const bottomEdge = s.last ? 907 : s.bottom + 10;
  const h = bottomEdge - top;
  const plotH = s.bottom - s.top;
  return { c, left: c.left, top, w: c.width, h, xAxisH: h - 15 - plotH };
}

function makeDecor(s: Spec, g: ReturnType<typeof geometry>) {
  return {
    id: "panelDecor" + s.letter,
    afterDraw(chart: any) {
      const { ctx, chartArea: ca, scales } = chart;
      const ys = scales.y;
      const xs = scales.x;
      ctx.save();
      ctx.strokeStyle = "#000";
      ctx.lineWidth = 1.2;
      ctx.strokeRect(ca.left, ca.top, ca.right - ca.left, ca.bottom - ca.top);
      ctx.beginPath();
      for (const v of s.yTicks) {
        const y = Math.round(ys.getPixelForValue(v)) + 0.5;
        ctx.moveTo(ca.left - 5, y);
        ctx.lineTo(ca.left, y);
      }
      if (s.minorStep > 0) {
        for (let k = 1; k * s.minorStep < s.yMax; k++) {
          const v = k * s.minorStep;
          if (s.yTicks.some((t) => Math.abs(t - v) < 1e-9)) continue;
          const y = Math.round(ys.getPixelForValue(v)) + 0.5;
          ctx.moveTo(ca.left - 3, y);
          ctx.lineTo(ca.left, y);
        }
      }
      for (const v of X_TICK_MARKS) {
        const x = Math.round(xs.getPixelForValue(v)) + 0.5;
        ctx.moveTo(x, ca.bottom);
        ctx.lineTo(x, ca.bottom + 5);
      }
      ctx.lineWidth = 1;
      ctx.stroke();

      ctx.fillStyle = "#000";
      ctx.font = `21px ${FONT}`;
      ctx.textAlign = "left";
      ctx.textBaseline = "middle";
      ctx.fillText(s.letter, g.c.letterX, ca.top + s.letterDy);
      ctx.font = `15px ${FONT}`;
      s.stats.forEach((t, i) => ctx.fillText(t, g.c.statsX, ca.top + s.statsDy[i]));
      ctx.save();
      ctx.translate(g.c.titleX, s.titleY - g.top);
      ctx.rotate(-Math.PI / 2);
      ctx.textAlign = "center";
      ctx.font = `20px ${FONT}`;
      ctx.fillText(s.title, 0, 0);
      ctx.restore();
      if (s.last) {
        ctx.textAlign = "center";
        ctx.font = `20px ${FONT}`;
        ctx.fillText("Age (years)", g.c.xTitleX, 891 - g.top);
      }
      ctx.restore();
    },
  };
}

function Panel({ spec }: { spec: Spec }) {
  const ref = useRef<HTMLCanvasElement>(null);
  const g = geometry(spec);
  useEffect(() => {
    const canvas = ref.current;
    if (!canvas) return;
    const n = Math.min(spec.ages.length, spec.values.length);
    const pts: { x: number; y: number }[] = [];
    for (let i = 0; i < n; i++) {
      const v = spec.values[i];
      if (v !== null && v !== undefined) pts.push({ x: spec.ages[i], y: v });
    }
    const datasets: any[] = [
      {
        type: "scatter",
        data: pts,
        pointRadius: 3.8,
        pointBorderWidth: 1.4,
        pointBackgroundColor: "rgba(255,255,255,0)",
        pointBorderColor: "#000000",
        order: 0,
      },
    ];
    if (spec.fits) {
      spec.fits.forEach((arr, k) => {
        datasets.push({
          type: "line",
          data: g.c.fitX.map((x, i) => ({ x, y: arr[i] })),
          borderColor: spec.gray ? "#8a8a8a" : "#000000",
          borderWidth: spec.gray ? 0.8 : k === 0 ? 1.3 : 1.1,
          borderDash: !spec.gray && k > 0 ? [2, 2] : [],
          pointRadius: 0,
          fill: false,
          tension: 0,
          order: 1,
        });
      });
    }
    const chart = new Chart(canvas, {
      type: "scatter",
      data: { datasets },
      plugins: [makeDecor(spec, g)],
      options: {
        responsive: false,
        animation: false,
        events: [],
        devicePixelRatio: 1,
        layout: { padding: { top: 15, right: g.w - g.c.plotR, left: 0, bottom: 0 } },
        plugins: { legend: { display: false }, tooltip: { enabled: false } },
        scales: {
          x: {
            type: "linear",
            min: 18,
            max: g.c.xMax,
            grid: { display: false, drawTicks: false, tickLength: 0 },
            border: { display: false },
            afterBuildTicks: (sc: any) => {
              sc.ticks = X_LABELS.map((v) => ({ value: v }));
            },
            ticks: {
              display: spec.last,
              autoSkip: false,
              maxRotation: 0,
              padding: 10,
              color: "#000",
              font: { family: FONT, size: 14.5 },
              callback: (v: any) => String(v),
            },
            afterFit: (sc: any) => {
              sc.height = g.xAxisH;
            },
          },
          y: {
            type: "linear",
            min: 0,
            max: spec.yMax,
            grid: { display: false, drawTicks: false, tickLength: 0 },
            border: { display: false },
            afterBuildTicks: (sc: any) => {
              sc.ticks = spec.yTicks.map((v) => ({ value: v }));
            },
            ticks: {
              autoSkip: false,
              padding: 11,
              color: "#000",
              font: { family: FONT, size: 15.5 },
              callback: (v: any) => (spec.decimals ? (v === 0 ? "0" : Number(v).toFixed(1)) : String(v)),
            },
            afterFit: (sc: any) => {
              sc.width = g.c.plotL;
            },
          },
        },
      } as any,
    } as any);
    return () => chart.destroy();
  }, []);
  return (
    <canvas
      ref={ref}
      width={g.w}
      height={g.h}
      style={{ position: "absolute", left: g.left, top: g.top, width: g.w, height: g.h }}
    />
  );
}

export default function App() {
  return (
    <div style={{ position: "absolute", left: 0, top: 0, width: 600, height: 907, background: "#fff", overflow: "hidden" }}>
      {PANELS.map((p) => (
        <Panel key={p.letter} spec={p} />
      ))}
    </div>
  );
}
